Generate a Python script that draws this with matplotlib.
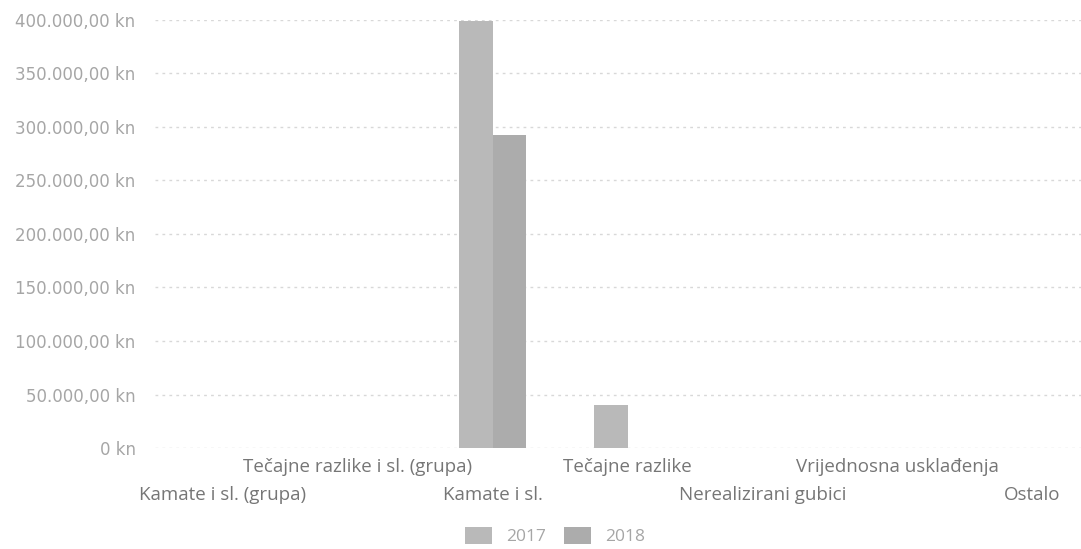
import matplotlib
matplotlib.use("Agg")
import matplotlib.pyplot as plt
from matplotlib.patches import Patch
import numpy as np

categories = [
    "Kamate i sl. (grupa)",
    "Tečajne razlike i sl. (grupa)",
    "Kamate i sl.",
    "Tečajne razlike",
    "Nerealizirani gubici",
    "Vrijednosna usklađenja",
    "Ostalo",
]
series_names = ["2017", "2018"]
values_2017 = [0, 0, 399000, 40000, 0, 0, 0]
values_2018 = [0, 0, 292500, 0, 0, 0, 0]
y_ticks = [0, 50000, 100000, 150000, 200000, 250000, 300000, 350000, 400000]
y_tick_labels = [
    "0 kn", "50.000,00 kn", "100.000,00 kn", "150.000,00 kn", "200.000,00 kn",
    "250.000,00 kn", "300.000,00 kn", "350.000,00 kn", "400.000,00 kn",
]

plt.rcParams["font.family"] = ["Open Sans", "DejaVu Sans"]

W, H = 1081, 549
fig = plt.figure(figsize=(W / 100, H / 100), dpi=100)
ax = fig.add_axes([155 / W, 101 / H, (W - 155) / W, 428 / H])

x = np.arange(len(categories))
bw = 0.245
c17 = "#b9b9b9"
c18 = "#acacac"
ax.bar(x - bw / 2, values_2017, width=bw, color=c17, zorder=2)
ax.bar(x + bw / 2, values_2018, width=bw, color=c18, zorder=2)

ax.set_ylim(0, 400000)
ax.set_xlim(-0.5, 6.5 - 19 / 135)

ax.set_yticks(y_ticks)
ax.set_yticklabels(y_tick_labels, color="#a6a6a6", fontsize=12,
                   family=["DejaVu Sans"])
ax.tick_params(axis="y", length=0, pad=14)
ax.yaxis.grid(True, color="#d8d8d8", linestyle=(0, (2, 3)), linewidth=1)

ax.set_xticks(x)
ax.set_xticklabels(categories, color="#767676", fontsize=13.5)
ax.tick_params(axis="x", length=0)
for i, tick in enumerate(ax.xaxis.get_major_ticks()):
    tick.set_pad(7 if i % 2 == 1 else 27)

for s in ax.spines.values():
    s.set_visible(False)

handles = [Patch(facecolor=c17, edgecolor="none"), Patch(facecolor=c18, edgecolor="none")]
leg = fig.legend(handles, series_names, loc="center", bbox_to_anchor=(555 / W, 1 - 536 / H),
                 ncol=2, frameon=False, fontsize=12.5, handlelength=1.6, handleheight=1.2,
                 handletextpad=0.8, columnspacing=1.0)
for t in leg.get_texts():
    t.set_color("#a6a6a6")

fig.savefig("out.png", dpi=100, facecolor="white")
